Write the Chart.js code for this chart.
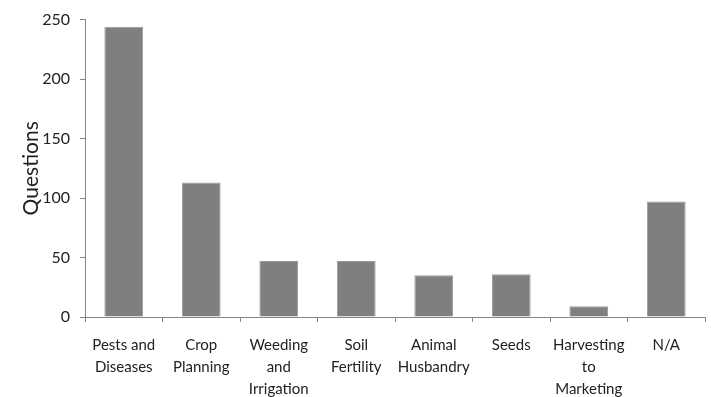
<!DOCTYPE html>
<html>
<head>
<meta charset="utf-8">
<script src="https://cdn.jsdelivr.net/npm/chart.js@4"></script>
<style>
  html, body { margin: 0; padding: 0; background: #fff; }
  #wrap { width: 711px; height: 397px; }
</style>
</head>
<body>
<div id="wrap"><canvas id="my-chart" width="711" height="397"></canvas></div>
<script>
'use strict';

// ******GLOBALS******
let categories = [
  ['Pests and', 'Diseases'],
  ['Crop', 'Planning'],
  ['Weeding', 'and', 'Irrigation'],
  ['Soil', 'Fertility'],
  ['Animal', 'Husbandry'],
  'Seeds',
  ['Harvesting', 'to', 'Marketing'],
  'N/A'
];

let questionCounts = [244, 113, 47, 47, 35, 36, 9, 97];

let yTicks = [0, 50, 100, 150, 200, 250];

let axisGray = '#868686';
let textColor = '#222222';

// Canvas element for chart to render to
let canvasElem = document.getElementById('my-chart').getContext('2d');

let myChartObj = {
  type: 'bar',
  data: {
    labels: categories,
    datasets: [{
      data: questionCounts,
      backgroundColor: '#7f7f7f',
      borderColor: '#9a9a9a',
      borderWidth: 1,
      barPercentage: 0.5,
      categoryPercentage: 1
    }]
  },
  options: {
    responsive: false,
    animation: false,
    layout: { padding: { left: 0, right: 6, top: 17, bottom: 0 } },
    plugins: {
      legend: { display: false },
      tooltip: { enabled: false }
    },
    scales: {
      x: {
        grid: {
          offset: true,
          drawOnChartArea: false,
          color: axisGray,
          tickLength: 5
        },
        border: { color: axisGray, width: 1 },
        ticks: {
          autoSkip: false,
          maxRotation: 0,
          color: textColor,
          padding: 12,
          font: { family: 'Lato', size: 15, lineHeight: 1.47 }
        },
        afterFit: function (scale) { scale.height = 80; }
      },
      y: {
        min: 0,
        max: 250,
        afterBuildTicks: function (scale) {
          scale.ticks = yTicks.map(v => ({ value: v }));
        },
        grid: {
          drawOnChartArea: false,
          color: axisGray,
          tickLength: 5
        },
        border: { color: axisGray, width: 1 },
        ticks: {
          color: textColor,
          padding: 10,
          font: { family: 'Lato', size: 16 }
        },
        title: {
          display: true,
          text: 'Questions',
          color: textColor,
          padding: { top: 19, bottom: 0 },
          font: { family: 'Lato', size: 21 }
        },
        afterFit: function (scale) { scale.width = 85; }
      }
    }
  }
};

new Chart(canvasElem, myChartObj);
</script>
</body>
</html>
